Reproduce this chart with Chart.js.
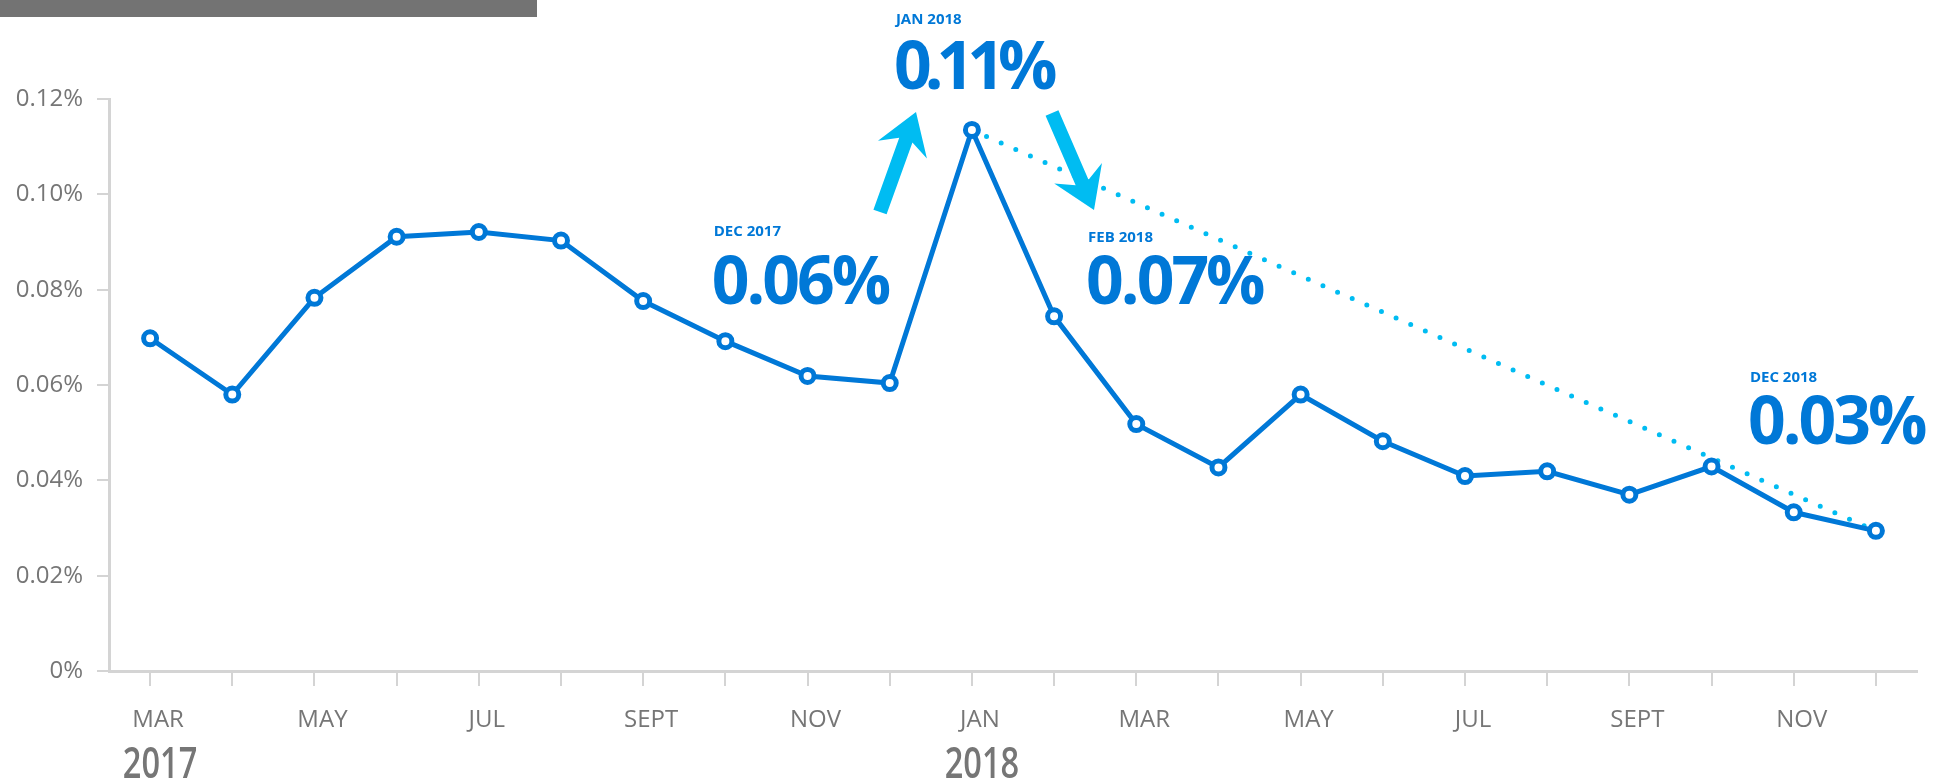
<!DOCTYPE html>
<html>
<head>
<meta charset="utf-8">
<script src="https://cdn.jsdelivr.net/npm/chart.js@4"></script>
<style>
  body { margin: 0; background: #fff; }
  #wrap { position: relative; width: 1946px; height: 783px; }
  #titlebar { position: absolute; left: 0; top: 0; width: 537px; height: 17px; background: #737373; }
</style>
</head>
<body>
<div id="wrap">
  <div id="titlebar"></div>
  <canvas id="rateChart"></canvas>
</div>
<script>
// monthly rate in %, Mar 2017 .. Dec 2018
const months = ["MAR", "APR", "MAY", "JUN", "JUL", "AUG", "SEPT", "OCT", "NOV", "DEC",
                "JAN", "FEB", "MAR", "APR", "MAY", "JUN", "JUL", "AUG", "SEPT", "OCT", "NOV", "DEC"];
const rates = [0.0698, 0.0580, 0.0783, 0.0911, 0.0921, 0.0903, 0.0776, 0.0692, 0.0619, 0.0604,
               0.1135, 0.0744, 0.0518, 0.0427, 0.0580, 0.0482, 0.0409, 0.0419, 0.0370, 0.0429, 0.0333, 0.0294];
const yearIndex = [0, 10];
const yearText = ["2017", "2018"];
const trendFrom = 10;
const trendTo = 21;
const calloutIndex = [9, 10, 11, 21];
const calloutMonth = ["DEC 2017", "JAN 2018", "FEB 2018", "DEC 2018"];
const calloutValue = ["0.06%", "0.11%", "0.07%", "0.03%"];

const trend = rates.map((v, i) => (i === trendFrom || i === trendTo) ? v : null);

const BLUE = "#0078d7";
const CYAN = "#00bcf2";
const GREY = "#767676";
const AXIS = "#d4d4d4";

function drawArrow(ctx, tx, ty, hx, hy) {
  const len = Math.hypot(hx - tx, hy - ty);
  const dx = (hx - tx) / len, dy = (hy - ty) / len;
  const nx = -dy, ny = dx;
  const sw = 7, hw = 26, hl = 40, notch = 10;
  const pts = [
    [hx, hy],
    [hx - dx * hl + nx * hw, hy - dy * hl + ny * hw],
    [hx - dx * (hl - notch) + nx * sw, hy - dy * (hl - notch) + ny * sw],
    [tx + nx * sw, ty + ny * sw],
    [tx - nx * sw, ty - ny * sw],
    [hx - dx * (hl - notch) - nx * sw, hy - dy * (hl - notch) - ny * sw],
    [hx - dx * hl - nx * hw, hy - dy * hl - ny * hw]
  ];
  ctx.beginPath();
  pts.forEach((p, k) => k ? ctx.lineTo(p[0], p[1]) : ctx.moveTo(p[0], p[1]));
  ctx.closePath();
  ctx.fillStyle = CYAN;
  ctx.fill();
}

const extras = {
  id: "extras",
  afterDraw(chart) {
    const ctx = chart.ctx;
    const xs = chart.scales.x;
    ctx.save();

    // year labels under the month ticks
    ctx.fillStyle = GREY;
    ctx.textAlign = "center";
    ctx.textBaseline = "alphabetic";
    yearIndex.forEach((idx, k) => {
      const x = xs.getPixelForValue(idx) + 10;
      ctx.save();
      ctx.translate(x, 778);
      ctx.scale(0.74, 1);
      ctx.font = "600 44px 'Open Sans'";
      ctx.fillText(yearText[k], 0, 0);
      ctx.restore();
    });

    // callouts
    const dxs = [-176, -76, 34, -126];
    const smallY = [236, 24, 242, 382];
    const bigY = [304, 89, 304, 444];
    const spacing = [-3, -7, -3, -3];
    ctx.textAlign = "left";
    ctx.fillStyle = BLUE;
    calloutIndex.forEach((idx, k) => {
      const x = xs.getPixelForValue(idx) + dxs[k];
      ctx.font = "bold 15px 'Open Sans'";
      ctx.letterSpacing = "0px";
      ctx.fillText(calloutMonth[k], x, smallY[k]);
      ctx.font = "bold 66px 'Open Sans'";
      ctx.letterSpacing = spacing[k] + "px";
      ctx.fillText(calloutValue[k], x - 2, bigY[k]);
    });
    ctx.letterSpacing = "0px";

    drawArrow(ctx, 880, 212, 916, 112);
    drawArrow(ctx, 1052, 113, 1094, 210);
    ctx.restore();
  }
};

const config = {
  type: "line",
  data: {
    labels: months,
    datasets: [
      {
        label: "Rate",
        data: rates,
        borderColor: BLUE,
        borderWidth: 5,
        pointRadius: 6.5,
        pointBorderWidth: 5,
        pointBackgroundColor: "#fff",
        pointBorderColor: BLUE,
        tension: 0,
      },
      {
        label: "Trend",
        data: trend,
        spanGaps: true,
        borderColor: CYAN,
        borderWidth: 5,
        borderDash: [0, 16],
        borderCapStyle: "round",
        pointRadius: 0,
      },
    ],
  },
  options: {
    responsive: true,
    maintainAspectRatio: false,
    animation: false,
    layout: { padding: { top: 99, right: 29, left: 0, bottom: 0 } },
    plugins: { legend: { display: false }, tooltip: { enabled: false } },
    scales: {
      x: {
        offset: true,
        afterFit: (s) => { s.height = 112; },
        border: { color: AXIS, width: 3 },
        grid: { drawOnChartArea: false, drawTicks: true, tickLength: 15, color: AXIS, lineWidth: 2, offset: false },
        ticks: {
          autoSkip: false,
          maxRotation: 0,
          padding: 20,
          labelOffset: 8,
          color: GREY,
          font: { family: "'Liberation Sans Narrow', 'Open Sans'", size: 24 },
          callback: function (v, i) { return i % 2 === 0 ? months[i] : ""; },
        },
      },
      y: {
        min: 0,
        max: 0.12,
        afterFit: (s) => { s.width = 109; },
        border: { color: AXIS, width: 3 },
        grid: { drawOnChartArea: false, drawTicks: true, tickLength: 12, color: AXIS, lineWidth: 2 },
        ticks: {
          stepSize: 0.02,
          padding: 14,
          color: GREY,
          font: { family: "'Open Sans'", size: 24 },
          callback: (v) => v === 0 ? "0%" : v.toFixed(2) + "%",
        },
      },
    },
  },
  plugins: [extras],
};

new Chart(document.getElementById("rateChart"), config);
</script>
</body>
</html>
